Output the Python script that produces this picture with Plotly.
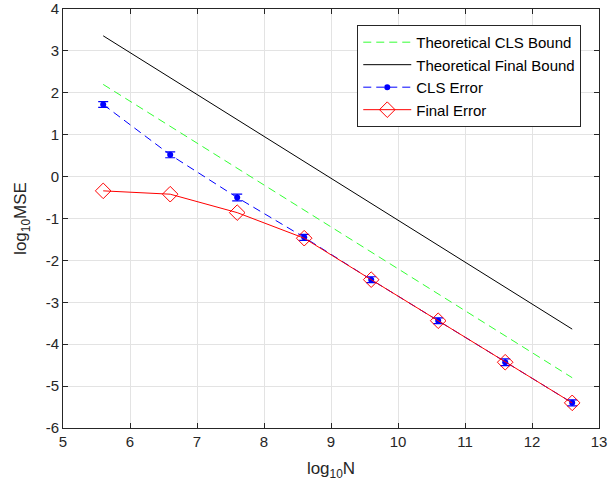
import plotly.graph_objects as go

log_n = [5.6, 6.6, 7.6, 8.6, 9.6, 10.6, 11.6, 12.6]
cls_error = [1.72, 0.52, -0.5, -1.45, -2.46, -3.44, -4.43, -5.4]
cls_err_bar = [0.07, 0.07, 0.08, 0.07, 0.07, 0.07, 0.08, 0.07]
final_error = [-0.34, -0.42, -0.86, -1.47, -2.46, -3.44, -4.43, -5.4]
bound_x = [5.6, 12.6]
cls_bound = [2.2, -4.8]
final_bound = [3.36, -3.64]
y_tick_vals = [-6, -5, -4, -3, -2, -1, 0, 1, 2, 3, 4]
y_tick_text = ["-6", "-5", "-4", "-3", "-2", "-1", "0", "1", "2", "3", "4"]

fig = go.Figure()
fig.add_trace(go.Scatter(x=bound_x, y=cls_bound, mode="lines", name="Theoretical CLS Bound",
                         line=dict(color="#33ff33", width=1, dash="8px,5px")))
fig.add_trace(go.Scatter(x=bound_x, y=final_bound, mode="lines", name="Theoretical Final Bound",
                         line=dict(color="black", width=1)))
fig.add_trace(go.Scatter(x=log_n, y=cls_error, mode="lines+markers", name="CLS Error",
                         line=dict(color="blue", width=1, dash="8px,5px"),
                         marker=dict(symbol="circle", size=6, color="blue"),
                         error_y=dict(type="data", array=cls_err_bar, color="blue", thickness=1.2, width=5)))
fig.add_trace(go.Scatter(x=log_n, y=final_error, mode="lines+markers", name="Final Error",
                         line=dict(color="red", width=1),
                         marker=dict(symbol="diamond-open", size=12, color="red", line=dict(width=1))))

axis_common = dict(showline=True, linecolor="#262626", linewidth=1, mirror="ticks", ticks="inside",
                   ticklen=5, tickcolor="#262626", showgrid=True, gridcolor="#e3e3e3", gridwidth=1,
                   zeroline=False, automargin=False, ticklabeloverflow="allow",
                   tickfont=dict(family="Liberation Sans, Arial", size=15, color="#262626"))

fig.update_layout(
    width=608, height=482,
    margin=dict(l=63, r=9, t=9, b=54),
    paper_bgcolor="white", plot_bgcolor="white",
    font=dict(family="Liberation Sans, Arial", size=15, color="#262626"),
    xaxis=dict(range=[5, 13], dtick=1,
               title=dict(text="log<sub>10</sub>N", standoff=13, font=dict(size=17)), **axis_common),
    yaxis=dict(range=[-6, 4], tickmode="array", tickvals=y_tick_vals, ticktext=y_tick_text,
               title=dict(text="log<sub>10</sub>MSE", standoff=14, font=dict(size=17)), **axis_common),
    legend=dict(x=0.549, y=0.962, xanchor="left", yanchor="top", bgcolor="white",
                bordercolor="#262626", borderwidth=1, font=dict(size=15, color="black"),
                tracegroupgap=0, itemwidth=48),
    showlegend=True,
)

fig.write_html("out.html", config={"displayModeBar": False},
               post_script="document.body.style.margin='0';document.body.style.overflow='hidden';")
